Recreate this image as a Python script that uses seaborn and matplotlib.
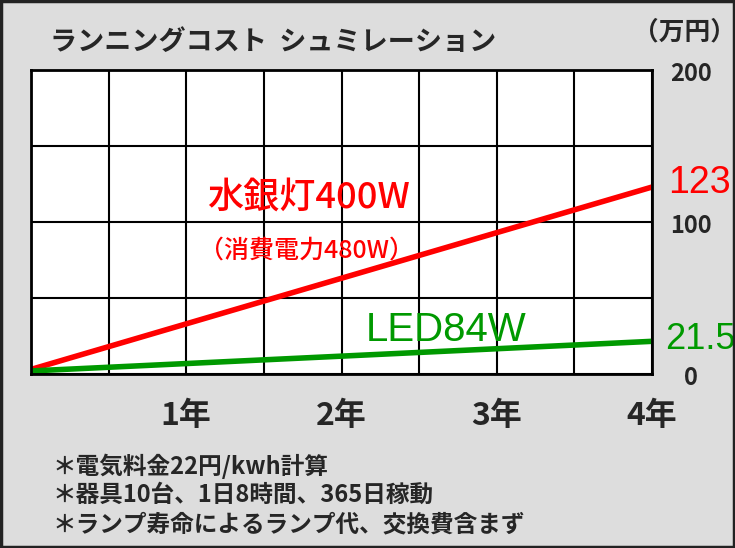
import matplotlib
matplotlib.use("Agg")
import matplotlib.pyplot as plt
import seaborn as sns
import pandas as pd

years = [0, 4]
mercury_cost = [3, 123]
led_cost = [2, 21.5]
x_ticks = [1, 2, 3, 4]
x_tick_labels = ["1年", "2年", "3年", "4年"]
y_ticks = [0, 100, 200]
y_tick_labels = ["0", "100", "200"]
title = "ランニングコスト  シュミレーション"
unit = "（万円）"
notes = ["＊電気料金22円/kwh計算", "＊器具10台、1日8時間、365日稼動", "＊ランプ寿命によるランプ代、交換費含まず"]

sns.set_style("white")
plt.rcParams['font.family'] = ['Noto Sans CJK JP', 'DejaVu Sans']

df = pd.DataFrame({
    "year": years * 2,
    "cost": mercury_cost + led_cost,
    "kind": ["水銀灯"] * 2 + ["LED"] * 2,
})

bg = "#dddddd"
fig = plt.figure(figsize=(7.35, 5.48), dpi=100, facecolor=bg)
fig.patches.append(plt.Rectangle((0.002, 0.002), 0.996, 0.996, transform=fig.transFigure,
                                 fill=False, edgecolor="#222222", linewidth=2.5))
ax = fig.add_axes([31/735, 174/548, 621/735, 304/548])
ax.set_facecolor("white")

sns.lineplot(data=df, x="year", y="cost", hue="kind", palette={"水銀灯": "#ff0000", "LED": "#009900"},
             linewidth=4, ax=ax, legend=False)

ax.set_xlim(0, 4)
ax.set_ylim(0, 200)
ax.set_xticks([i * 0.5 for i in range(9)])
ax.set_yticks([0, 50, 100, 150, 200])
ax.grid(True, color="black", linewidth=1.5)
ax.set_axisbelow(True)
ax.tick_params(length=0, labelbottom=False, labelleft=False)
ax.set_xlabel("")
ax.set_ylabel("")
for s in ax.spines.values():
    s.set_color("black")
    s.set_linewidth(2)

for xv, lab in zip(x_ticks, x_tick_labels):
    ax.annotate(lab, xy=(xv, 0), xycoords="data", xytext=(0, -30), textcoords="offset points",
                ha="center", va="center", fontsize=23, fontweight="bold")
for yv, lab in zip(y_ticks, y_tick_labels):
    ax.annotate(lab, xy=(4, yv), xycoords="data", xytext=(28, -3), textcoords="offset points",
                ha="center", va="center", fontsize=17, fontweight="bold")

ax.annotate(str(mercury_cost[-1]), xy=(4, mercury_cost[-1]), xytext=(34, 3), textcoords="offset points",
            ha="center", va="center", fontsize=27, color="#ff0000",
            family=["Liberation Sans", "DejaVu Sans"])
ax.annotate(str(led_cost[-1]), xy=(4, led_cost[-1]), xytext=(35, 1), textcoords="offset points",
            ha="center", va="center", fontsize=26, color="#009900",
            family=["Liberation Sans", "DejaVu Sans"])

fig.text(50/735, 1 - 42/548, title, ha="left", va="center", fontsize=19.5, fontweight="bold")
fig.text(685/735, 1 - 32/548, unit, ha="center", va="center", fontsize=18.5, fontweight="bold")

fig.text(308/735, 1 - 198/548, "水銀灯400W", ha="center", va="center", fontsize=26,
         color="#ff0000", fontweight="medium")
fig.text(307/735, 1 - 251/548, "（消費電力480W）", ha="center", va="center", fontsize=18,
         color="#ff0000", fontweight="medium")
fig.text(446/735, 1 - 330/548, "LED84W", ha="center", va="center", fontsize=29,
         color="#009900", family=["Liberation Sans", "DejaVu Sans"])

for i, n in enumerate(notes):
    fig.text(52/735, 1 - (466 + 29 * i)/548, n, ha="left", va="center", fontsize=17, fontweight="bold")

fig.savefig("out.png", dpi=100, facecolor=bg)
